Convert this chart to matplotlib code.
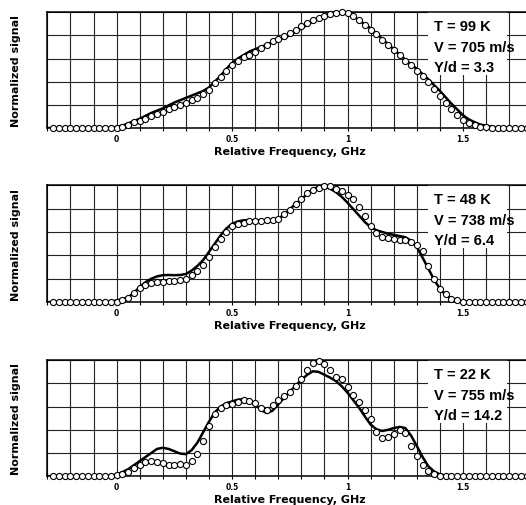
import numpy as np
import matplotlib
matplotlib.use("Agg")
import matplotlib.pyplot as plt
from matplotlib.patches import Rectangle

# ── Data ──────────────────────────────────────────────────────────────
# sampling grids (GHz): fit curve every 0.025 from -0.3, measured points every 0.025 from -0.275
fit_freq  = np.round(np.linspace(-0.3, 1.8, 85), 3)
meas_freq = np.round(np.linspace(-0.275, 1.8, 84), 3)

labels_99k = ["T = 99 K", "V = 705 m/s", "Y/d = 3.3"]
labels_48k = ["T = 48 K", "V = 738 m/s", "Y/d = 6.4"]
labels_22k = ["T = 22 K", "V = 755 m/s", "Y/d = 14.2"]

fit_99k = [0, 0, 0, 0, 0, 0, 0, 0, 0, 0, 0, 0,
           0.01, 0.02, 0.04, 0.06, 0.08, 0.105, 0.13, 0.15, 0.17, 0.195,
           0.22, 0.24, 0.26, 0.28, 0.30, 0.32, 0.35, 0.40, 0.45, 0.51,
           0.56, 0.60, 0.63, 0.66, 0.68, 0.70, 0.72, 0.74, 0.76, 0.78,
           0.80, 0.83, 0.86, 0.89, 0.92, 0.95, 0.97, 0.99, 1.0, 1.0,
           0.99, 0.965, 0.93, 0.895, 0.86, 0.815, 0.77, 0.725, 0.68, 0.635,
           0.59, 0.55, 0.51, 0.465, 0.42, 0.37, 0.32, 0.265, 0.21, 0.16,
           0.11, 0.075, 0.05, 0.03, 0.02, 0.01, 0.005,
           0, 0, 0, 0, 0, 0]

meas_99k = [0, 0, 0, 0, 0, 0, 0, 0, 0, 0, 0,
            0.0, 0.01, 0.03, 0.05, 0.06, 0.08, 0.10, 0.12, 0.14, 0.16,
            0.18, 0.20, 0.22, 0.24, 0.26, 0.29, 0.33, 0.39, 0.44, 0.49,
            0.54, 0.58, 0.61, 0.63, 0.66, 0.69, 0.72, 0.75, 0.77, 0.79,
            0.82, 0.85, 0.88, 0.91, 0.93, 0.95, 0.97, 0.98, 0.99, 1.0,
            0.99, 0.97, 0.93, 0.89, 0.85, 0.81, 0.76, 0.72, 0.67, 0.63,
            0.58, 0.54, 0.49, 0.45, 0.40, 0.34, 0.28, 0.22, 0.16, 0.11,
            0.07, 0.04, 0.025, 0.01, 0.005,
            0, 0, 0, 0, 0, 0, 0, 0]

fit_48k = [0, 0, 0, 0, 0, 0, 0, 0, 0, 0, 0, 0,
           0.015, 0.025, 0.04, 0.08, 0.13, 0.17, 0.20, 0.22, 0.23, 0.232,
           0.23, 0.232, 0.24, 0.27, 0.31, 0.36, 0.43, 0.50, 0.57, 0.63,
           0.67, 0.69, 0.70, 0.70, 0.70, 0.70, 0.70, 0.705, 0.71, 0.75,
           0.795, 0.84, 0.88, 0.925, 0.965, 0.985, 0.99, 0.97, 0.94, 0.90,
           0.85, 0.795, 0.74, 0.685, 0.64, 0.615, 0.60, 0.585, 0.575, 0.565,
           0.555, 0.525, 0.47, 0.38, 0.285, 0.19, 0.115, 0.06, 0.03, 0.012,
           0.005,
           0, 0, 0, 0, 0, 0, 0, 0, 0, 0, 0, 0]

meas_48k = [0, 0, 0, 0, 0, 0, 0, 0, 0, 0, 0,
            0.005, 0.015, 0.035, 0.08, 0.12, 0.15, 0.165, 0.17, 0.175, 0.18,
            0.18, 0.19, 0.20, 0.23, 0.27, 0.32, 0.39, 0.47, 0.54, 0.60,
            0.65, 0.67, 0.68, 0.69, 0.69, 0.695, 0.70, 0.705, 0.71, 0.75,
            0.79, 0.84, 0.88, 0.93, 0.96, 0.98, 0.995, 0.99, 0.97, 0.95,
            0.92, 0.88, 0.81, 0.74, 0.65, 0.59, 0.555, 0.545, 0.54, 0.535,
            0.53, 0.515, 0.49, 0.44, 0.31, 0.20, 0.11, 0.065, 0.03, 0.015,
            0.005,
            0, 0, 0, 0, 0, 0, 0, 0, 0, 0, 0, 0]

fit_22k = [0, 0, 0, 0, 0, 0, 0, 0, 0, 0, 0, 0,
           0.015, 0.035, 0.06, 0.095, 0.13, 0.165, 0.20, 0.235, 0.245, 0.235,
           0.215, 0.195, 0.19, 0.225, 0.29, 0.38, 0.47, 0.55, 0.60, 0.63,
           0.645, 0.66, 0.665, 0.655, 0.62, 0.57, 0.545, 0.565, 0.62, 0.675,
           0.73, 0.78, 0.83, 0.875, 0.905, 0.90, 0.875, 0.85, 0.82, 0.775,
           0.72, 0.655, 0.59, 0.515, 0.445, 0.405, 0.39, 0.40, 0.415, 0.425,
           0.415, 0.35, 0.26, 0.165, 0.085, 0.04, 0.015, 0.005,
           0, 0, 0, 0, 0, 0, 0, 0, 0, 0, 0, 0, 0, 0, 0]

meas_22k = [0, 0, 0, 0, 0, 0, 0, 0, 0, 0, 0,
            0.01, 0.02, 0.04, 0.07, 0.10, 0.125, 0.13, 0.12, 0.11, 0.10,
            0.10, 0.105, 0.10, 0.13, 0.195, 0.30, 0.43, 0.54, 0.59, 0.61,
            0.62, 0.64, 0.655, 0.65, 0.63, 0.585, 0.57, 0.61, 0.66, 0.69,
            0.73, 0.78, 0.84, 0.92, 0.98, 0.99, 0.97, 0.92, 0.86, 0.84,
            0.77, 0.70, 0.64, 0.57, 0.49, 0.38, 0.33, 0.34, 0.36, 0.40,
            0.37, 0.26, 0.17, 0.10, 0.045, 0.015, 0.005,
            0, 0, 0, 0, 0, 0, 0, 0, 0, 0, 0, 0, 0, 0, 0, 0]

panels = [
    (fit_99k, meas_99k, labels_99k),
    (fit_48k, meas_48k, labels_48k),
    (fit_22k, meas_22k, labels_22k),
]

# ── Figure ────────────────────────────────────────────────────────────
fig = plt.figure(figsize=(5.26, 5.06), dpi=100)

# axes rectangles (the right edge runs past the figure like the scan)
boxes = [
    [0.090, 0.745, 0.922, 0.229],
    [0.090, 0.401, 0.922, 0.231],
    [0.090, 0.057, 0.922, 0.229],
]

for (fit, meas, labels), box in zip(panels, boxes):
    ax = fig.add_axes(box)
    ax.set_xlim(-0.3, 1.8)
    ax.set_ylim(0, 1.0)

    ax.set_xticks([0, 0.5, 1, 1.5])
    ax.set_xticklabels(["0", "0.5", "1", "1.5"],
                       fontsize=5.5, fontweight="bold")
    ax.set_xticks(np.arange(-0.3, 1.81, 0.1), minor=True)
    ax.set_yticks(np.arange(0, 1.01, 0.2))
    ax.set_yticklabels([])
    ax.tick_params(axis="x", which="both", direction="out",
                   length=2, width=0.8, pad=2.5)
    ax.tick_params(axis="y", length=0)

    ax.grid(which="both", axis="x", color="#222222", linewidth=0.8)
    ax.grid(which="major", axis="y", color="#222222", linewidth=0.8)
    ax.set_axisbelow(True)
    for sp in ax.spines.values():
        sp.set_linewidth(1.1)
        sp.set_color("black")

    # white patch behind the parameter text
    ax.add_patch(Rectangle((1.35, 0.46), 0.34, 0.54, facecolor="white",
                           edgecolor="none", zorder=1))

    ax.plot(fit_freq, fit, color="black", linewidth=1.8, zorder=3,
            solid_joinstyle="round")
    ax.plot(meas_freq, meas, linestyle="none", marker="o",
            markersize=4.4, markerfacecolor="white",
            markeredgecolor="black", markeredgewidth=0.8,
            zorder=4, clip_on=False)

    for txt, yy in zip(labels, [0.88, 0.70, 0.53]):
        ax.text(1.375, yy, txt, fontsize=10.5, family="Liberation Sans",
                fontweight="bold", va="center", ha="left", zorder=5)

    ax.set_xlabel("Relative Frequency, GHz", fontsize=8,
                  fontweight="bold", labelpad=2)
    ax.set_ylabel("Normalized signal", fontsize=8, fontweight="bold")
    ax.yaxis.set_label_coords(-0.054, 0.5)

fig.savefig("out.png", dpi=100)
